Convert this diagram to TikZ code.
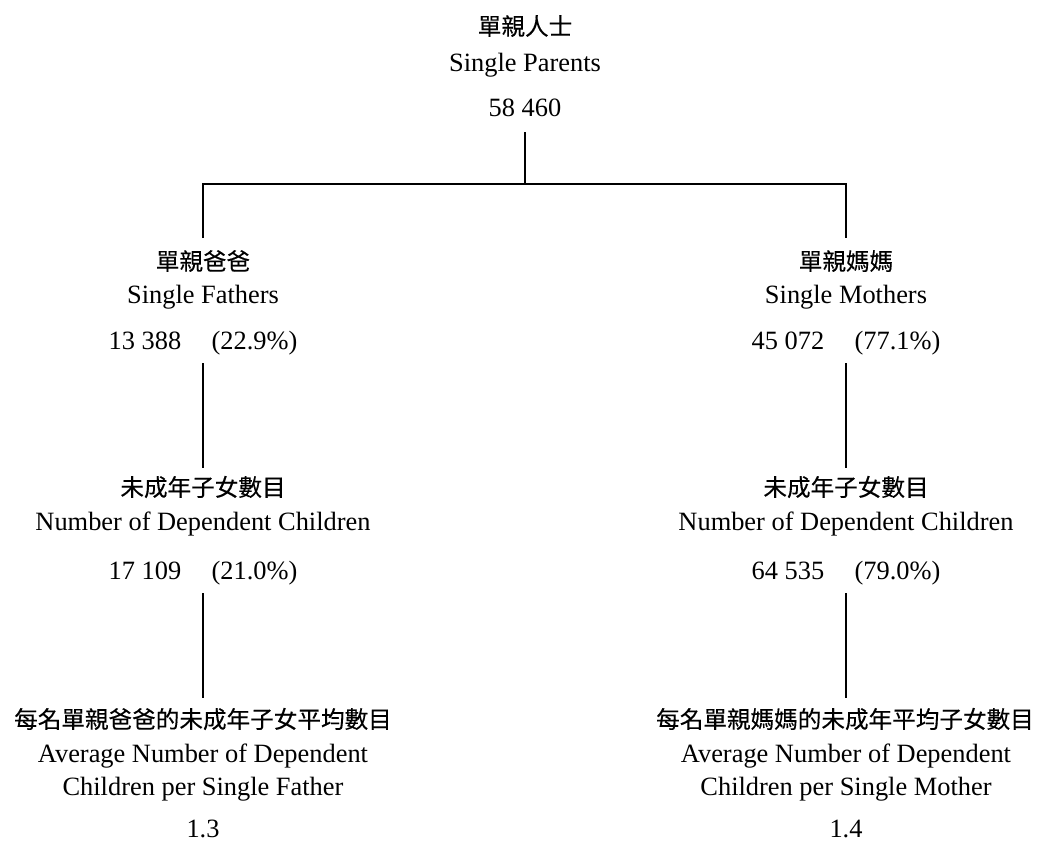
\documentclass[tikz,border=0pt]{standalone}
\usepackage{fontspec}
\setmainfont{Liberation Serif}
\newfontfamily\cjk[FakeBold=0.3]{Noto Sans CJK TC}
\begin{document}
\begin{tikzpicture}[x=0.5pt,y=-0.5pt,
  en/.style={anchor=base,inner sep=0pt,font=\fontsize{13.2}{15}\selectfont},
  zh/.style={anchor=base,inner sep=0pt,font=\cjk\fontsize{11.8}{14}\selectfont},
  link/.style={line width=1pt}]
\useasboundingbox (0,0) rectangle (1037,841);
% top
\node[zh] (t1) at (525,35) {單親人士};
\node[en] (t2) at (525,71) {Single Parents};
\node[en] (t3) at (525,116) {58 460};
% level 2
\node[zh] (f1) at (203,270) {單親爸爸};
\node[en] (f2) at (203,303) {Single Fathers};
\node[en] (f3) at (203,349) {13 388\hspace{1.15em}(22.9\%)};
\node[zh] (m1) at (846,270) {單親媽媽};
\node[en] (m2) at (846,303) {Single Mothers};
\node[en] (m3) at (846,349) {45 072\hspace{1.15em}(77.1\%)};
% level 3
\node[zh] (fc1) at (203,496) {未成年子女數目};
\node[en] (fc2) at (203,530) {Number of Dependent Children};
\node[en] (fc3) at (203,579) {17 109\hspace{1.15em}(21.0\%)};
\node[zh] (mc1) at (846,496) {未成年子女數目};
\node[en] (mc2) at (846,530) {Number of Dependent Children};
\node[en] (mc3) at (846,579) {64 535\hspace{1.15em}(79.0\%)};
% level 4
\node[zh] (fa1) at (203,728) {每名單親爸爸的未成年子女平均數目};
\node[en] (fa2) at (203,762) {Average Number of Dependent};
\node[en] (fa3) at (203,795) {Children per Single Father};
\node[en] (fa4) at (203,837) {1.3};
\node[zh] (ma1) at (845,728) {每名單親媽媽的未成年平均子女數目};
\node[en] (ma2) at (846,762) {Average Number of Dependent};
\node[en] (ma3) at (846,795) {Children per Single Mother};
\node[en] (ma4) at (846,837) {1.4};
% connector points
\coordinate (tb) at (525,132);
\coordinate (tj) at (525,184);
\coordinate (lj) at (203,184);
\coordinate (rj) at (846,184);
\coordinate (le) at (203,238);
\coordinate (re) at (846,238);
\coordinate (ls2) at (203,363);
\coordinate (le2) at (203,468);
\coordinate (rs2) at (846,363);
\coordinate (re2) at (846,468);
\coordinate (ls3) at (203,593);
\coordinate (le3) at (203,698);
\coordinate (rs3) at (846,593);
\coordinate (re3) at (846,698);
\draw[link] (tb) -- (tj);
\draw[link] (le) -- (lj) -- (rj) -- (re);
\draw[link] (ls2) -- (le2);
\draw[link] (rs2) -- (re2);
\draw[link] (ls3) -- (le3);
\draw[link] (rs3) -- (re3);
\end{tikzpicture}
\end{document}
